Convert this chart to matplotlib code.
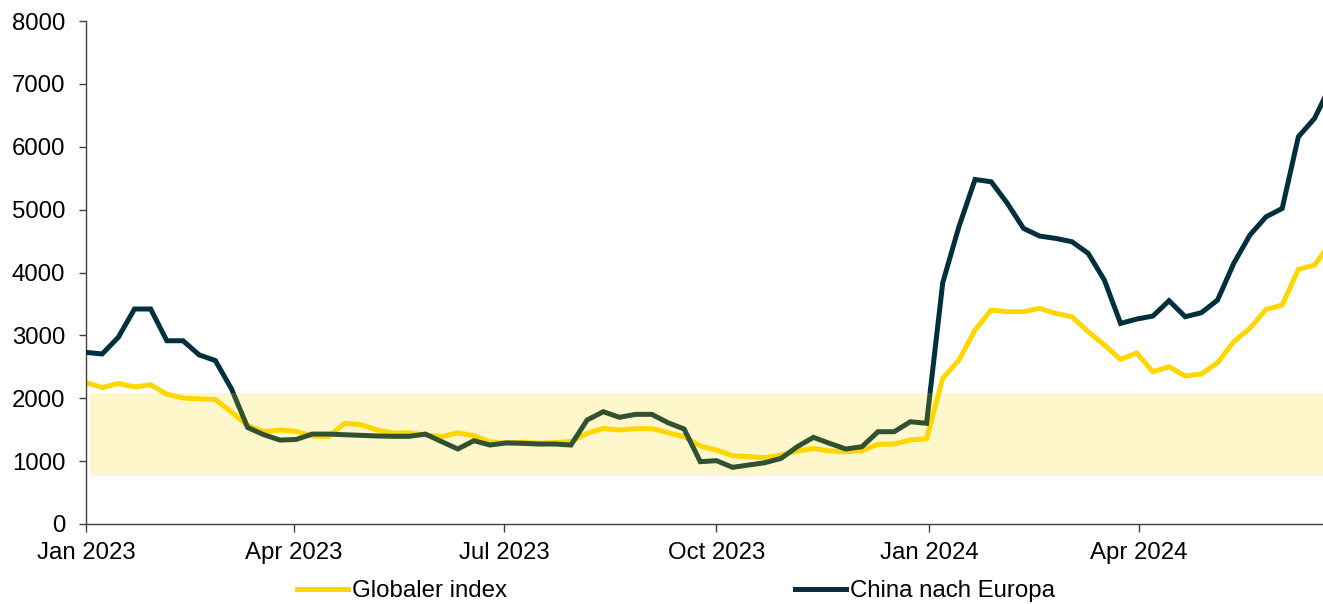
"""Container freight rates 2023-2024: global index vs. China -> Europe."""

import matplotlib
matplotlib.use("Agg")
import matplotlib.pyplot as plt
import matplotlib.dates as mdates
import pandas as pd

plt.rcParams["font.family"] = ["Liberation Sans", "DejaVu Sans"]

# %% data (weekly)
START = "2023-01-01"
N_WEEKS = 78

globaler_index = [
    2250, 2170, 2235, 2180, 2215, 2065, 2005, 1990, 1980, 1780,
    1565, 1470, 1495, 1475, 1400, 1390, 1600, 1580, 1495, 1445,
    1450, 1415, 1390, 1450, 1405, 1305, 1285, 1300, 1285, 1295,
    1310, 1442, 1521, 1495, 1516, 1516, 1453, 1389, 1240, 1177,
    1087, 1071, 1055, 1097, 1161, 1203, 1161, 1150, 1166, 1267,
    1272, 1336, 1357, 2317, 2608, 3085, 3403, 3377, 3377, 3430,
    3350, 3297, 3059, 2847, 2619, 2720, 2422, 2502, 2354, 2386,
    2566, 2900, 3112, 3414, 3483, 4050, 4119, 4470,
]
china_nach_europa = [
    2730, 2705, 2970, 3420, 3420, 2915, 2915, 2690, 2600, 2150,
    1535, 1420, 1335, 1345, 1430, 1430, 1420, 1410, 1400, 1395,
    1395, 1430, 1310, 1193, 1325, 1256, 1290, 1283, 1272, 1272,
    1256, 1654, 1786, 1697, 1744, 1744, 1611, 1511, 991, 1007,
    901, 938, 975, 1044, 1229, 1378, 1283, 1193, 1229, 1468,
    1468, 1627, 1601, 3838, 4729, 5481, 5444, 5100, 4702, 4580,
    4543, 4490, 4305, 3880, 3191, 3260, 3308, 3552, 3297, 3361,
    3562, 4145, 4596, 4887, 5020, 6160, 6452, 6980,
]
band_low, band_high = 770, 2090
tick_months = ["2023-01-01", "2023-04-01", "2023-07-01", "2023-10-01",
               "2024-01-01", "2024-04-01"]

dates = pd.date_range(START, periods=N_WEEKS, freq="7D")

YELLOW = "#FFD700"
DARK = "#00303C"

# %% plot
fig = plt.figure(figsize=(13.23, 6.04), dpi=100)
ax = fig.add_axes([0.065, 0.1325, 0.935, 0.8325])

ax.plot(dates, globaler_index, color=YELLOW, lw=3.6, label="Globaler index",
        solid_joinstyle="miter", zorder=2)
ax.plot(dates, china_nach_europa, color=DARK, lw=3.6, label="China nach Europa",
        solid_joinstyle="miter", zorder=3)
# translucent band drawn on top of the lines
ax.axhspan(band_low, band_high, xmin=0.003, xmax=1, color=YELLOW, alpha=0.2,
           lw=0, zorder=4)

ax.set_xlim(pd.Timestamp("2023-01-01"), pd.Timestamp("2024-06-19 16:00"))
ax.set_ylim(0, 8000)
ax.set_yticks(range(0, 8001, 1000))
ax.set_xticks(pd.to_datetime(tick_months))
ax.xaxis.set_major_formatter(mdates.DateFormatter("%b %Y"))

for side in ("top", "right"):
    ax.spines[side].set_visible(False)
for side in ("left", "bottom"):
    ax.spines[side].set_color("#404040")
    ax.spines[side].set_linewidth(1.0)

ax.tick_params(axis="both", colors="#404040", labelcolor="black",
               labelsize=17.3, width=1.0)
ax.tick_params(axis="y", length=5, pad=10)
ax.tick_params(axis="x", length=6, pad=7)

fig.legend(loc="center", bbox_to_anchor=(0.511, 0.0215), ncol=2,
           frameon=False, fontsize=17.3, handlelength=2.1, handletextpad=0.17,
           columnspacing=12.0, borderpad=0)

fig.savefig("out.png", dpi=100)
